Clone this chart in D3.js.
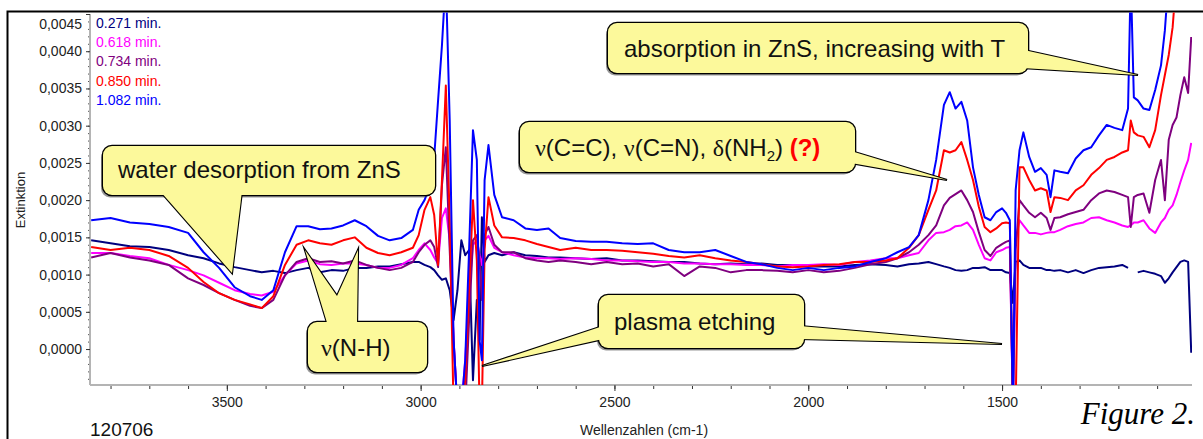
<!DOCTYPE html>
<html><head><meta charset="utf-8">
<script src="https://cdn.jsdelivr.net/npm/d3@7"></script>
<style>body{margin:0;background:#fff}svg{display:block;font-family:"Liberation Sans",Arial,sans-serif}</style>
</head><body>
<svg id="c" width="1203" height="439"></svg>
<script>
// ---------- data (extinction values in units of 1e-4) ----------
const wavenumbers = [3850,3800,3750,3700,3650,3600,3560,3520,3480,3440,3410,3380,3350,3320,3290,3260,3230,3200,3170,3140,3110,3080,3050,3020,
 3005,2990,2975,2965,2955,2945,2935,2925,2915,2905,2895,2885,2875,2865,2855,2848,2842,2835,2825,2810,2790,
 2760,2730,2700,2670,2640,
 2600,2560,2520,2480,2440,2400,2360,2320,2280,2240,2200,2160,2120,2080,2040,2000,1960,1920,1880,1840,1800,
 1770,1740,1715,1690,1670,1650,1635,1620,1605,1590,1575,1560,1545,1530,1515,1500,1490,1480,1472,1465,1455,1445,1430,1415,1400,1385,1375,1365,1350,1330,1310,1290,1270,1250,1230,1210,1190,1175,1168,1160,1150,1135,1120,1105,1090,1080,1070,1060,1050,1040,1030,1020,1012];

const ext271 = [14.6,14.2,13.8,13.7,13.3,12.6,12.2,11.5,11.0,10.6,10.3,10.5,10.2,10.6,10.9,10.3,10.6,10.5,10.9,10.9,11.1,11.1,11.4,11.7,
 11.7,11.3,11.0,10.6,9.9,9.3,9.5,7.9,3.9,7.9,14.6,12.6,13.3,-4.2,6.6,1.2,17.7,11.7,12.6,12.9,12.6,
 13.0,12.6,12.5,12.3,12.3,
 12.2,12.1,12.2,11.9,11.9,11.8,11.7,11.7,11.5,11.4,11.5,11.4,11.5,11.3,11.3,11.1,11.1,11.1,11.3,11.4,11.3,
 11.1,11.4,11.5,11.7,11.4,11.1,10.9,10.6,10.5,10.6,10.9,10.9,11.0,10.6,10.6,10.6,10.3,10.2,6.2,11.7,11.9,11.3,10.9,10.9,10.9,10.6,10.6,10.5,10.6,10.3,10.6,10.2,10.6,10.9,11.0,11.1,11.3,10.9,null,null,10.3,10.5,10.3,10.1,9.8,8.9,9.5,10.3,11.0,11.7,11.9,11.7,-0.5];

const ext618 = [12.9,12.9,12.5,12.2,11.3,10.6,9.9,8.9,7.9,7.4,7.2,7.7,9.9,11.5,11.9,11.4,11.3,11.5,11.5,11.3,10.9,10.9,11.3,12.2,
 13.3,14.2,13.3,12.3,11.5,17.6,18.9,14.6,1.2,-8,-8,-1.5,7.9,14.0,14.6,12.6,11.3,14.6,15.2,13.6,13.0,
 12.6,12.3,12.2,12.2,12.1,
 12.2,12.1,11.9,11.9,11.8,11.7,11.7,11.5,11.5,11.4,11.4,11.3,11.3,11.1,11.3,11.3,11.4,11.3,11.7,11.9,12.2,
 12.2,12.6,12.9,14.6,15.6,15.7,16.0,16.5,16.6,17.0,16.0,14.0,12.2,11.9,13.0,13.3,13.6,13.7,-8,14.6,17.3,16.6,15.6,15.6,15.4,15.6,15.7,15.7,16.0,16.5,16.8,17.0,17.6,17.7,17.3,17.0,16.6,16.4,16.6,17.0,17.0,17.3,16.2,15.6,17.0,17.6,18.7,19.3,20.7,22.4,24.0,25.4,27.7];

const ext734 = [12.3,12.9,12.3,11.9,11.3,9.5,8.6,7.5,6.6,5.8,5.5,6.6,9.9,11.7,12.2,11.7,11.8,11.5,11.9,11.3,10.9,10.6,10.9,11.7,
 13.0,14.0,14.6,13.7,11.0,22.0,27.1,13.3,1.2,-8,-8,-8,3.9,14.6,15.3,11.9,6.6,15.3,16.4,14.0,13.0,
 13.0,12.2,11.9,11.7,11.9,
 11.7,11.4,11.7,11.4,11.5,11.1,11.4,9.8,11.1,10.9,10.3,10.6,10.6,10.5,10.3,10.6,10.3,10.5,10.9,11.4,11.7,
 12.2,13.0,14.0,15.3,16.6,19.3,20.3,20.8,21.3,20.0,18.4,15.7,13.3,12.5,13.6,14.1,14.4,14.6,-8,13.3,20.0,19.3,18.3,17.7,18.3,17.6,16.0,17.6,17.7,18.1,18.4,18.7,20.0,20.9,21.3,21.1,20.7,20.4,16.4,20.4,20.7,20.9,18.3,22.7,25.4,20.0,28.1,30.1,31.1,34.1,36.5,34.4,41.9];

const ext850 = [13.7,13.3,13.6,13.3,12.5,10.9,9.0,7.5,6.6,6.0,5.5,7.1,11.3,14.0,14.6,14.2,14.0,14.6,15.0,13.6,12.9,12.6,13.0,13.6,
 15.3,18.7,20.4,18.0,11.3,22.7,35.4,17.3,-8,-8,-8,-4.2,7.9,20.0,11.9,-8,-8,13.3,20.4,16.6,15.0,
 14.9,14.6,14.1,13.7,13.3,
 13.6,13.3,13.3,13.2,13.0,12.8,12.5,12.3,12.6,12.2,11.9,11.7,11.4,11.1,11.0,11.1,11.3,11.4,11.7,11.7,11.9,
 12.2,13.6,15.3,18.7,21.3,26.7,26.4,26.7,27.8,25.4,22.7,19.1,16.4,15.7,16.2,16.9,17.0,16.9,-8,-8,24.4,24.4,22.7,21.3,21.6,21.3,18.4,20.4,20.3,20.0,21.3,22.0,23.4,24.3,25.4,25.8,26.4,26.7,30.7,29.1,28.7,28.5,27.1,29.4,34.1,36.8,39.5,43.2,50,50,50,50,50];

const ext1082 = [17.3,17.6,17.0,16.8,16.4,15.6,13.0,10.9,8.3,7.1,6.6,7.9,13.0,16.5,16.5,16.1,16.2,16.6,17.3,16.5,15.2,14.6,14.9,16.0,
 18.7,20.0,22.0,25.8,33.4,40.8,50,30.7,1.2,-8,-8,-1.5,13.3,29.4,25.4,1.2,-1.5,22.7,27.4,20.7,17.7,
 17.3,16.2,16.0,16.2,14.9,
 14.5,14.4,14.4,14.2,14.1,14.2,13.3,13.0,13.0,13.3,12.5,11.7,11.4,10.9,10.6,10.9,10.6,10.9,11.1,11.7,12.2,
 13.0,13.7,15.3,20.0,25.4,32.8,34.5,32.3,33.2,30.7,24.4,20.7,17.7,17.3,18.4,18.9,18.3,17.3,-8,21.3,26.7,29.1,25.8,23.8,24.3,23.4,20.4,24.0,23.8,23.6,25.6,26.7,27.1,28.7,30.1,29.7,29.4,32.3,50,33.8,33.4,32.3,32.1,34.8,38.1,42.8,50,50,50,50,50,50,50];

const seriesNames  = ["0.271 min.","0.618 min.","0.734 min.","0.850 min.","1.082 min."];
const seriesValues = [ext271, ext618, ext734, ext850, ext1082];
const seriesColors = ["#00007f","#ff00ff","#7f007f","#ff0000","#0000ff"];
const valueUnit = 1e-4;

const yTicks = [0,0.0005,0.0010,0.0015,0.0020,0.0025,0.0030,0.0035,0.0040,0.0045];
const xTicks = [3500,3000,2500,2000,1500];
const xMinorTicks = d3.range(3800,1000,-100);
const yMinorTicks = d3.range(-4,46,1).map(v=>v*1e-4);

// ---------- layout ----------
const svg = d3.select("#c");
const P = {left:90,right:1192,top:14,bottom:385};
const x = d3.scaleLinear().domain([3853,1010]).range([P.left,P.right]);
const y = d3.scaleLinear().domain([-0.000483,0.0045]).range([P.bottom,P.top]);

// frame
svg.append("path").attr("d","M7.5,439 L7.5,11.5 L1203,11.5").attr("fill","none").attr("stroke","#000").attr("stroke-width",2);

// clip
svg.append("clipPath").attr("id","clip").append("rect")
  .attr("x",P.left+1).attr("y",12.5).attr("width",P.right-P.left-1).attr("height",P.bottom-12.5);

// axes
const fmt = v => d3.format(".4f")(v).replace(".",",");
const yMinor = svg.append("g").attr("transform",`translate(${P.left},0)`)
  .call(d3.axisLeft(y).tickValues(yMinorTicks.filter(v=>y(v)>=P.top && y(v)<=P.bottom)).tickSize(2).tickFormat(""));
yMinor.select(".domain").remove();
yMinor.selectAll("line").attr("stroke","#555");
const yAx = svg.append("g").attr("transform",`translate(${P.left},0)`)
  .call(d3.axisLeft(y).tickValues(yTicks).tickSize(4).tickPadding(4).tickFormat(fmt));
yAx.select(".domain").attr("stroke","#b4b4b4").attr("stroke-width",2).attr("d",`M0,${P.top}V${P.bottom}`);
yAx.selectAll("line").attr("stroke","#333");
yAx.selectAll("text").attr("font-size",14).attr("fill","#222").attr("font-family","Liberation Sans, Arial, sans-serif");
yAx.selectAll(".tick").filter(d=>d===0.0045).select("text").attr("dy","1.0em");

const xMinor = svg.append("g").attr("transform",`translate(0,${P.bottom})`)
  .call(d3.axisBottom(x).tickValues(xMinorTicks).tickSize(4).tickFormat(""));
xMinor.select(".domain").remove();
xMinor.selectAll("line").attr("stroke","#333");
const xAx = svg.append("g").attr("transform",`translate(0,${P.bottom})`)
  .call(d3.axisBottom(x).tickValues(xTicks).tickSize(6).tickPadding(6).tickFormat(d=>d));
xAx.select(".domain").attr("stroke","#b4b4b4").attr("stroke-width",2).attr("d",`M${P.left},0H${P.right}`);
xAx.selectAll("line").attr("stroke","#333");
xAx.selectAll("text").attr("font-size",14).attr("fill","#222").attr("font-family","Liberation Sans, Arial, sans-serif");

// axis titles & annotations
svg.append("text").attr("transform","translate(25,200) rotate(-90)").attr("text-anchor","middle")
  .attr("font-size",13).attr("fill","#222").text("Extinktion");
svg.append("text").attr("x",644).attr("y",435).attr("text-anchor","middle")
  .attr("font-size",14).attr("fill","#222").text("Wellenzahlen (cm-1)");
svg.append("text").attr("x",90).attr("y",436).attr("font-size",19).attr("fill","#111").text("120706");
svg.append("text").attr("x",1195).attr("y",424).attr("text-anchor","end")
  .attr("font-family","Liberation Serif, Times New Roman, serif").attr("font-style","italic")
  .attr("font-size",31).attr("fill","#000").text("Figure 2.");

// spectra
const line = d3.line()
  .defined(d=>d.v!==null)
  .x(d=>x(d.w)).y(d=>y(d.v*valueUnit));
const plotG = svg.append("g").attr("clip-path","url(#clip)");
seriesValues.forEach((vals,i)=>{
  const data = wavenumbers.map((w,k)=>({w, v: vals[k]}));
  plotG.append("path").datum(data).attr("d",line)
    .attr("fill","none").attr("stroke",seriesColors[i]).attr("stroke-width",2)
    .attr("stroke-linejoin","round");
});

// legend
seriesNames.forEach((n,i)=>{
  svg.append("text").attr("x",96).attr("y",28+i*19.2).attr("font-size",14)
    .attr("fill",seriesColors[i]).text(n);
});

// callouts
const YEL = "#fcf99b";
function callout(box, wedges){
  const g = svg.append("g");
  g.append("rect").attr("x",box.x-2).attr("y",box.y+2.5).attr("width",box.w).attr("height",box.h)
    .attr("rx",9).attr("fill","#444").attr("opacity",0.55);
  g.append("rect").attr("x",box.x).attr("y",box.y).attr("width",box.w).attr("height",box.h)
    .attr("rx",9).attr("fill","none").attr("stroke","#000").attr("stroke-width",2.6);
  wedges.forEach(p=>g.append("polygon").attr("points",p.map(q=>q.join(",")).join(" "))
    .attr("fill","none").attr("stroke","#000").attr("stroke-width",2.2).attr("stroke-linejoin","miter").attr("stroke-miterlimit",10));
  g.append("rect").attr("x",box.x).attr("y",box.y).attr("width",box.w).attr("height",box.h)
    .attr("rx",9).attr("fill",YEL);
  wedges.forEach(p=>g.append("polygon").attr("points",p.map(q=>q.join(",")).join(" ")).attr("fill",YEL));
  return g;
}
const F = 24;
// water desorption
let g1 = callout({x:103,y:146,w:332,h:49},[[[160,191],[232,273],[242,191]]]);
g1.append("text").attr("x",118).attr("y",178).attr("font-size",F).attr("fill","#111").text("water desorption from ZnS");
// nu(N-H)
let g2 = callout({x:308,y:322,w:119,h:50},[[[328,326],[305,250],[337,296],[358,250],[357,326]]]);
let t2 = g2.append("text").attr("x",321).attr("y",356).attr("font-size",F).attr("fill","#111");
t2.append("tspan").attr("font-family","Liberation Serif, serif").text("ν");
t2.append("tspan").text("(N-H)");
// nu(C=C)...
let g3 = callout({x:520,y:122,w:335,h:50},[[[851,151],[947,180],[851,163]]]);
let t3 = g3.append("text").attr("x",535).attr("y",156).attr("font-size",F).attr("fill","#111");
t3.append("tspan").attr("font-family","Liberation Serif, serif").text("ν");
t3.append("tspan").text("(C=C), ");
t3.append("tspan").attr("font-family","Liberation Serif, serif").text("ν");
t3.append("tspan").text("(C=N), ");
t3.append("tspan").attr("font-family","Liberation Serif, serif").text("δ");
t3.append("tspan").text("(NH");
t3.append("tspan").attr("font-size",15).attr("dy",5).text("2");
t3.append("tspan").attr("dy",-5).text(") ");
t3.append("tspan").attr("fill","#ff0000").attr("font-weight","bold").text("(?)");
// absorption
let g4 = callout({x:608,y:23,w:420,h:50},[[[1024,50],[1138,75],[1022,68]]]);
g4.append("text").attr("x",624).attr("y",57).attr("font-size",F).attr("fill","#111").text("absorption in ZnS, increasing with T");
// plasma etching
let g5 = callout({x:599,y:295,w:205,h:53},[[[603,326],[482,366],[603,339]],[[800,326],[1002,344],[800,339]]]);
g5.append("text").attr("x",614).attr("y",330).attr("font-size",F).attr("fill","#111").text("plasma etching");
</script>
</body></html>
